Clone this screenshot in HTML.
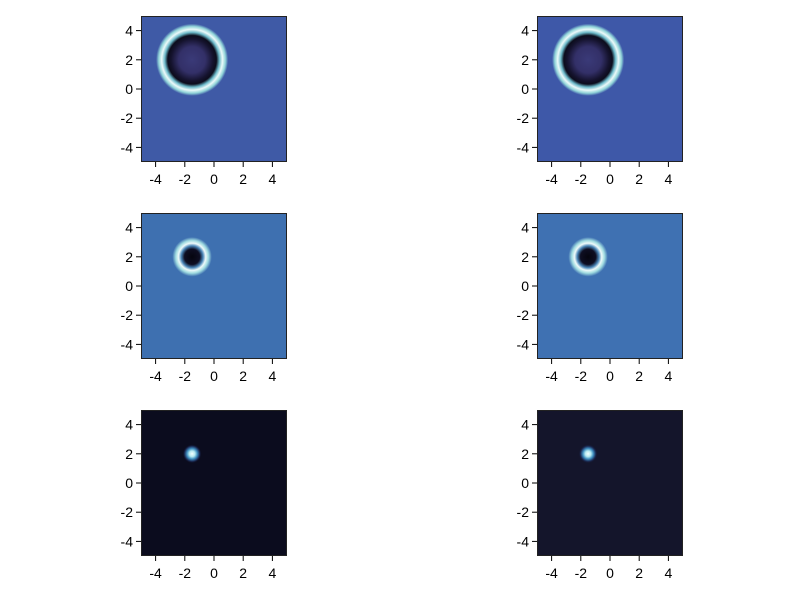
<!DOCTYPE html>
<html><head><meta charset="utf-8"><style>
body{margin:0;background:#fff;}
svg{display:block;font-family:"Liberation Sans",Arial,sans-serif;}
</style></head><body>
<svg id="chart" width="800" height="600"></svg>
<script>
const panelX = [141, 537];
const panelY = [16, 213, 410];
const tickValues = [-4, -2, 0, 2, 4];
const tickLabels = ["-4", "-2", "0", "2", "4"];
const centerX = [-1.5, -1.5, -1.5, -1.5, -1.5, -1.5];
const centerY = [2, 2, 2, 2, 2, 2];
const blobRadius = [2.6, 2.6, 1.5, 1.5, 0.65, 0.65];
const bgColors = ["#3f5aa6", "#3e58a8", "#3e70b0", "#3f71b2", "#0b0c1e", "#14152b"];
const gradKinds = ["ring", "ring", "ring2", "ring2", "spot", "spot"];
const NS = "http://www.w3.org/2000/svg";
const svg = document.getElementById("chart");
const W = 146, H = 146;
function el(t, a, p) { const e = document.createElementNS(NS, t); for (const k in a) e.setAttribute(k, a[k]); (p || svg).appendChild(e); return e; }
const defs = el("defs", {});
function stops(g, list) { list.forEach(s => el("stop", {offset: s[0], "stop-color": s[1], "stop-opacity": s[2] == null ? 1 : s[2]}, g)); }
function makeGrad(id, kind, bg) {
  const g = el("radialGradient", {id: id}, defs);
  if (kind === "ring") stops(g, [[0, "#3a3a78"], [0.35, "#333068"], [0.55, "#15132e"], [0.64, "#0c0c1c"], [0.72, "#6ab8c8"], [0.8, "#ecfafa"], [0.88, "#8fd3d8"], [0.95, bg], [1, bg, 0]]);
  else if (kind === "ring2") stops(g, [[0, "#05050f"], [0.35, "#0e0e22"], [0.5, "#4a86b8"], [0.62, "#eefafa"], [0.75, "#9fdbe0"], [0.9, bg], [1, bg, 0]]);
  else stops(g, [[0, "#f4ffff"], [0.3, "#b6eaf0"], [0.55, "#3f8fc0"], [0.8, "#1a2a55"], [1, bg, 0]]);
}
for (let r = 0; r < 3; r++) for (let c = 0; c < 2; c++) {
  const i = r * 2 + c, x0 = panelX[c], y0 = panelY[r];
  const sx = v => x0 + (v + 5) / 10 * W, sy = v => y0 + (5 - v) / 10 * H;
  const grp = el("g", {});
  
  
  el("rect", {x: x0, y: y0, width: W, height: H, fill: bgColors[i]}, grp);
  makeGrad("g" + i, gradKinds[i], bgColors[i]);
  const rad = blobRadius[i] * W / 10;
  const blob = el("circle", {cx: sx(centerX[i]), cy: sy(centerY[i]), r: rad, fill: "url(#g" + i + ")"}, grp);
  
  
  el("rect", {x: x0 + 0.5, y: y0 + 0.5, width: W - 1, height: H - 1, fill: "none", stroke: "#222", "stroke-width": 1}, grp);
  tickValues.forEach((v, k) => {
    el("line", {x1: sx(v), x2: sx(v), y1: y0 + H, y2: y0 + H + 5, stroke: "#000"}, grp);
    const tx = el("text", {x: sx(v), y: y0 + H + 22, "text-anchor": "middle", "font-size": 14}, grp);
    tx.textContent = tickLabels[k];
    
    
    el("line", {x1: x0 - 5, x2: x0, y1: sy(v), y2: sy(v), stroke: "#000"}, grp);
    const ty = el("text", {x: x0 - 8, y: sy(v) + 5, "text-anchor": "end", "font-size": 14}, grp);
    ty.textContent = tickLabels[k];
    
    
  });
}
</script>
</body></html>
